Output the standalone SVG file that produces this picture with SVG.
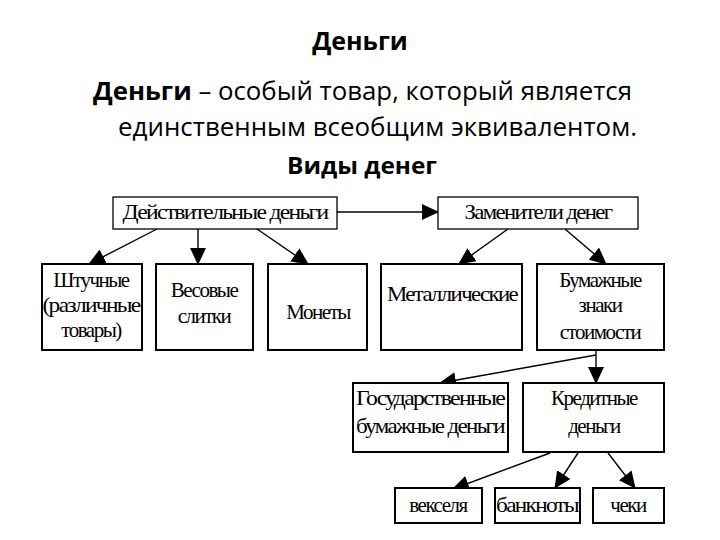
<svg xmlns="http://www.w3.org/2000/svg" width="720" height="540" viewBox="0 0 720 540">
<style>
.h{font-family:"Open Sans","Noto Sans","Liberation Sans",sans-serif;fill:#000}
.b{font-weight:bold}
.box{fill:#fff;stroke:#000;stroke-width:1.3}
.box2{fill:#fff;stroke:#000;stroke-width:2}
.t{font-family:"Liberation Serif","DejaVu Serif",serif;font-size:21px;fill:#000;text-anchor:middle;letter-spacing:-1.5px}
.c line{stroke:#000;stroke-width:1.4}
</style>
<defs>
<marker id="ah" markerWidth="17" markerHeight="16" refX="16" refY="8" orient="auto" markerUnits="userSpaceOnUse" viewBox="0 0 17 16">
<path d="M0,0 L17,8 L0,16 Z" fill="#000"/>
</marker>
</defs>
<rect width="720" height="540" fill="#fff"/>
<text class="h b" x="360" y="50" font-size="25" text-anchor="middle">Деньги</text>
<text class="h" x="93" y="100" font-size="25" textLength="539" lengthAdjust="spacingAndGlyphs"><tspan class="b">Деньги</tspan> – особый товар, который является</text>
<text class="h" x="118" y="136" font-size="25" textLength="519" lengthAdjust="spacingAndGlyphs">единственным всеобщим эквивалентом.</text>
<text class="h b" x="362" y="174" font-size="24" text-anchor="middle" textLength="150" lengthAdjust="spacingAndGlyphs">Виды денег</text>

<g id="conn" class="c">
<line x1="337" y1="212" x2="438" y2="212" marker-end="url(#ah)"/>
<line x1="157" y1="229" x2="89" y2="264" marker-end="url(#ah)"/>
<line x1="198" y1="229" x2="198" y2="264" marker-end="url(#ah)"/>
<line x1="257" y1="229" x2="308" y2="264" marker-end="url(#ah)"/>
<line x1="508" y1="229" x2="459" y2="264" marker-end="url(#ah)"/>
<line x1="565" y1="229" x2="606" y2="264" marker-end="url(#ah)"/>
<line x1="596" y1="350" x2="596" y2="383" marker-end="url(#ah)"/>
<line x1="596" y1="355" x2="440" y2="383" marker-end="url(#ah)"/>
<line x1="550" y1="453" x2="453" y2="489" marker-end="url(#ah)"/>
<line x1="578" y1="453" x2="555" y2="488" marker-end="url(#ah)"/>
<line x1="608" y1="453" x2="635" y2="488" marker-end="url(#ah)"/>
</g>

<g id="n1"><rect class="box" x="113" y="197" width="224" height="32"/><text class="t" x="225" y="219" textLength="205" lengthAdjust="spacingAndGlyphs">Действительные деньги</text></g>
<g id="n2"><rect class="box" x="438" y="197" width="200" height="32"/><text class="t" x="538" y="219" textLength="147" lengthAdjust="spacingAndGlyphs">Заменители денег</text></g>
<g id="n3"><rect class="box2" x="42" y="264" width="100" height="86"/><text class="t" x="91" y="287">Штучные</text><text class="t" x="91" y="312" textLength="97" lengthAdjust="spacingAndGlyphs">(различные</text><text class="t" x="91" y="337">товары)</text></g>
<g id="n4"><rect class="box2" x="156" y="264" width="97" height="86"/><text class="t" x="204" y="297">Весовые</text><text class="t" x="204" y="323">слитки</text></g>
<g id="n5"><rect class="box2" x="268" y="264" width="99" height="86"/><text class="t" x="318" y="319">Монеты</text></g>
<g id="n6"><rect class="box2" x="381" y="264" width="141" height="86"/><text class="t" x="452" y="301" textLength="130" lengthAdjust="spacingAndGlyphs">Металлические</text></g>
<g id="n7"><rect class="box2" x="537" y="264" width="127" height="86"/><text class="t" x="600" y="287">Бумажные</text><text class="t" x="600" y="312">знаки</text><text class="t" x="600" y="339">стоимости</text></g>
<g id="n8"><rect class="box2" x="353" y="383" width="155" height="69"/><text class="t" x="430" y="405" textLength="148" lengthAdjust="spacingAndGlyphs">Государственные</text><text class="t" x="430" y="433" textLength="148" lengthAdjust="spacingAndGlyphs">бумажные деньги</text></g>
<g id="n9"><rect class="box2" x="523" y="383" width="141" height="69"/><text class="t" x="594" y="405">Кредитные</text><text class="t" x="594" y="433">деньги</text></g>
<g id="n10"><rect class="box2" x="395" y="488" width="87" height="35"/><text class="t" x="438" y="512">векселя</text></g>
<g id="n11"><rect class="box2" x="495" y="488" width="85" height="35"/><text class="t" x="537" y="512" textLength="82" lengthAdjust="spacingAndGlyphs">банкноты</text></g>
<g id="n12"><rect class="box2" x="593" y="488" width="71" height="35"/><text class="t" x="628" y="512">чеки</text></g>
</svg>
